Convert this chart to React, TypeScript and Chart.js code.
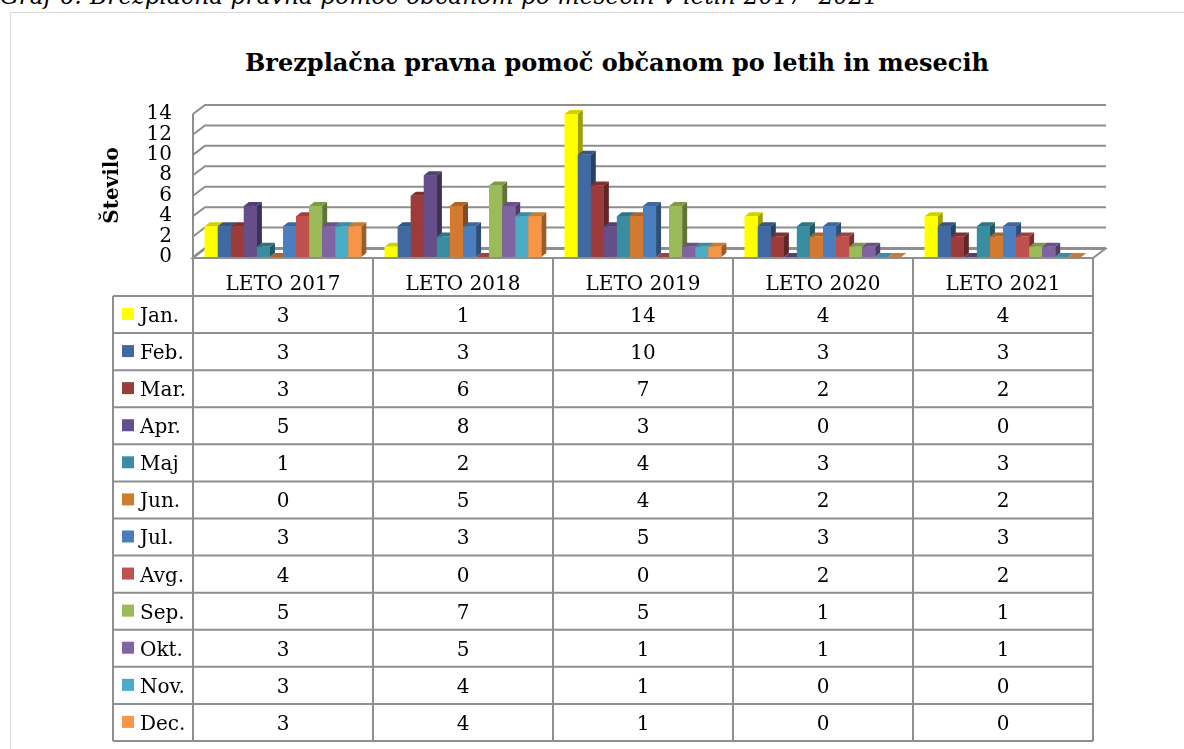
import { useEffect, useRef } from "react";
import { Chart, registerables } from "chart.js";
Chart.register(...registerables);

const categories = ["LETO 2017", "LETO 2018", "LETO 2019", "LETO 2020", "LETO 2021"];
const months = ["Jan.", "Feb.", "Mar.", "Apr.", "Maj", "Jun.", "Jul.", "Avg.", "Sep.", "Okt.", "Nov.", "Dec."];
const jan = [3, 1, 14, 4, 4];
const feb = [3, 3, 10, 3, 3];
const mar = [3, 6, 7, 2, 2];
const apr = [5, 8, 3, 0, 0];
const maj = [1, 2, 4, 3, 3];
const jun = [0, 5, 4, 2, 2];
const jul = [3, 3, 5, 3, 3];
const avg = [4, 0, 0, 2, 2];
const sep = [5, 7, 5, 1, 1];
const okt = [3, 5, 1, 1, 1];
const nov = [3, 4, 1, 0, 0];
const dec = [3, 4, 1, 0, 0];
const series = [jan, feb, mar, apr, maj, jun, jul, avg, sep, okt, nov, dec];
const yTicks = [0, 2, 4, 6, 8, 10, 12, 14];
const colors = [
  "#FFFF00", "#3F69A0", "#9B3C3B", "#654E8A", "#398DA1", "#D27B30",
  "#4A7EBF", "#C0504D", "#9BBB59", "#8064A2", "#4BACC6", "#F79646",
];

const FONT = "'DejaVu Serif', serif";
const GRID = "#8e8e8e";
const WALL = { dx: 12, dy: 9 };
const BAR = { dx: 5, dy: 4 };

function shade(hex: string, f: number) {
  const n = parseInt(hex.slice(1), 16);
  const r = Math.round(((n >> 16) & 255) * f);
  const g = Math.round(((n >> 8) & 255) * f);
  const b = Math.round((n & 255) * f);
  return `rgb(${r},${g},${b})`;
}

const excel3d = {
  id: "excel3d",
  beforeDatasetsDraw(chart: any) {
    const { ctx, chartArea: a } = chart;
    const y = chart.scales.y;
    const y0 = y.getPixelForValue(0);
    ctx.save();
    ctx.lineWidth = 2;
    ctx.strokeStyle = GRID;
    ctx.fillStyle = "#ffffff";
    ctx.beginPath();
    ctx.moveTo(a.left, y0 + 1);
    ctx.lineTo(a.right, y0 + 1);
    ctx.lineTo(a.right + WALL.dx, y0 + 1 - WALL.dy);
    ctx.lineTo(a.left + WALL.dx, y0 + 1 - WALL.dy);
    ctx.closePath();
    ctx.fill();
    ctx.stroke();
    ctx.beginPath();
    yTicks.forEach((v) => {
      const py = y.getPixelForValue(v);
      ctx.moveTo(a.left, py);
      ctx.lineTo(a.left + WALL.dx, py - WALL.dy);
      ctx.lineTo(a.right + WALL.dx + 1, py - WALL.dy);
    });
    ctx.moveTo(a.left, y.getPixelForValue(yTicks[yTicks.length - 1]));
    ctx.lineTo(a.left, y0 + 1);
    ctx.stroke();
    ctx.restore();
  },
  afterDatasetsDraw(chart: any) {
    const { ctx } = chart;
    ctx.save();
    for (let i = 0; i < series.length; i++) {
      const meta = chart.getDatasetMeta(i);
      const c = colors[i];
      meta.data.forEach((el: any) => {
        const { x, y: top, base, width } = el.getProps(["x", "y", "base", "width"], true);
        const l = x - width / 2;
        const r = x + width / 2;
        ctx.fillStyle = shade(c, 0.62);
        ctx.beginPath();
        ctx.moveTo(r, top);
        ctx.lineTo(r + BAR.dx, top - BAR.dy);
        ctx.lineTo(r + BAR.dx, base - BAR.dy);
        ctx.lineTo(r, base);
        ctx.closePath();
        ctx.fill();
        ctx.fillStyle = shade(c, 0.82);
        ctx.beginPath();
        ctx.moveTo(l, top);
        ctx.lineTo(l + BAR.dx, top - BAR.dy);
        ctx.lineTo(r + BAR.dx, top - BAR.dy);
        ctx.lineTo(r, top);
        ctx.closePath();
        ctx.fill();
        ctx.fillStyle = c;
        ctx.fillRect(l, top, width, base - top);
      });
    }
    ctx.restore();
  },
  afterDraw(chart: any) {
    const { ctx, chartArea: a } = chart;
    const xs = chart.scales.x;
    const y0 = chart.scales.y.getPixelForValue(0);
    const catW = (a.right - a.left) / categories.length;
    const edges = categories.map((_, i) => xs.getPixelForValue(i) - catW / 2);
    edges.push(a.right);
    const legendLeft = a.left - 80;
    const headTop = y0 + 1;
    const rowsTop = headTop + 38;
    const rowH = 37.08;
    const bottom = rowsTop + rowH * months.length;
    ctx.save();
    ctx.strokeStyle = GRID;
    ctx.lineWidth = 2;
    ctx.beginPath();
    edges.forEach((ex) => {
      ctx.moveTo(ex, headTop);
      ctx.lineTo(ex, bottom);
    });
    ctx.moveTo(legendLeft, rowsTop);
    ctx.lineTo(legendLeft, bottom);
    for (let k = 0; k <= months.length; k++) {
      const ry = rowsTop + k * rowH;
      ctx.moveTo(legendLeft, ry);
      ctx.lineTo(a.right, ry);
    }
    ctx.stroke();
    ctx.fillStyle = "#000";
    ctx.font = `20px ${FONT}`;
    ctx.textBaseline = "alphabetic";
    ctx.textAlign = "center";
    categories.forEach((c, i) => {
      ctx.fillText(c, xs.getPixelForValue(i), rowsTop - 6);
    });
    months.forEach((m, r) => {
      const ry = rowsTop + r * rowH;
      ctx.fillStyle = colors[r];
      ctx.fillRect(legendLeft + 9, ry + 12, 12, 12);
      ctx.fillStyle = "#000";
      ctx.textAlign = "left";
      ctx.fillText(m, legendLeft + 27, ry + 26);
      ctx.textAlign = "center";
      series[r].forEach((v, i) => {
        ctx.fillText(String(v), xs.getPixelForValue(i), ry + 26);
      });
    });
    ctx.restore();
  },
};

export default function App() {
  const ref = useRef<HTMLCanvasElement>(null);
  useEffect(() => {
    if (!ref.current) return;
    const chart = new Chart(ref.current, {
      type: "bar",
      data: {
        labels: categories,
        datasets: series.map((d, i) => ({
          label: months[i],
          data: d,
          backgroundColor: colors[i],
          borderWidth: 0,
          categoryPercentage: 0.87,
          barPercentage: 1,
        })),
      },
      options: {
        animation: false,
        responsive: false,
        devicePixelRatio: 1,
        layout: { padding: { left: 101, top: 114, right: 1184 - 1093, bottom: 749 - 257 } },
        plugins: { legend: { display: false }, tooltip: { enabled: false }, title: { display: false } },
        scales: {
          x: { display: false },
          y: {
            min: 0,
            max: 14,
            afterFit: (s: any) => {
              s.width = 92;
            },
            afterBuildTicks: (s: any) => {
              s.ticks = yTicks.map((v) => ({ value: v }));
            },
            ticks: {
              stepSize: 2,
              autoSkip: false,
              padding: 21,
              color: "#000",
              font: { family: FONT, size: 20, lineHeight: 1 },
            },
            grid: { display: false, drawTicks: false },
            border: { display: false },
            title: {
              display: true,
              text: "Število",
              color: "#000",
              padding: 0,
              font: { family: FONT, size: 20, weight: "bold" },
            },
          },
        },
      } as any,
      plugins: [excel3d],
    });
    return () => chart.destroy();
  }, []);

  return (
    <div style={{ position: "absolute", left: 0, top: 0, width: 1184, height: 749, overflow: "hidden", background: "#fff" }}>
      <div
        style={{
          position: "absolute",
          left: 0,
          top: -15,
          fontFamily: FONT,
          fontStyle: "italic",
          fontSize: 23.4,
          lineHeight: "23.4px",
          whiteSpace: "nowrap",
          color: "#000",
        }}
      >
        Graf 6: Brezplačna pravna pomoč občanom po mesecih v letih 2017- 2021
      </div>
      <div
        style={{
          position: "absolute",
          left: 10,
          top: 12,
          width: 1300,
          height: 900,
          border: "1px solid #d9d9d9",
        }}
      />
      <div
        style={{
          position: "absolute",
          left: 0,
          width: 1234,
          top: 49,
          textAlign: "center",
          fontFamily: FONT,
          fontWeight: "bold",
          fontSize: 24,
          lineHeight: "28px",
          whiteSpace: "nowrap",
          color: "#000",
        }}
      >
        Brezplačna pravna pomoč občanom po letih in mesecih
      </div>
      <canvas ref={ref} width={1184} height={749} style={{ position: "absolute", left: 0, top: 0, width: 1184, height: 749 }} />
    </div>
  );
}
